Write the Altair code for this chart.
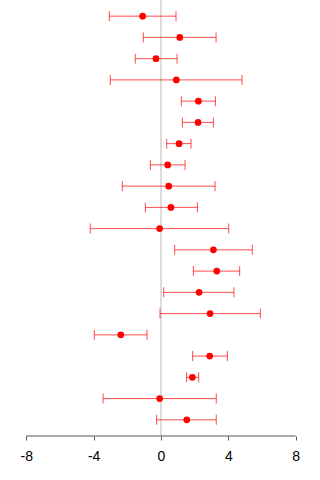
import altair as alt
import pandas as pd

rows = list(range(1, 21))
est = [-1.09, 1.11, -0.30, 0.91, 2.22, 2.20, 1.07, 0.40, 0.46, 0.59,
       -0.08, 3.11, 3.31, 2.26, 2.91, -2.39, 2.89, 1.86, -0.08, 1.53]
lo = [-3.07, -1.05, -1.53, -3.01, 1.21, 1.27, 0.34, -0.63, -2.30, -0.93,
      -4.20, 0.81, 1.92, 0.16, -0.06, -3.96, 1.88, 1.52, -3.44, -0.26]
hi = [0.89, 3.27, 0.95, 4.81, 3.23, 3.11, 1.78, 1.43, 3.21, 2.16,
      4.02, 5.42, 4.67, 4.33, 5.90, -0.83, 3.94, 2.24, 3.28, 3.28]
tick_values = [-8, -4, 0, 4, 8]

df = pd.DataFrame({"row": rows, "est": est, "lo": lo, "hi": hi})

H = 436
xscale = alt.Scale(domain=[-9.56, 9.44], nice=False, zero=False)
yscale = alt.Scale(domain=[0.24, 20.76], reverse=True, nice=False, zero=False)
xaxis = alt.Axis(values=tick_values, domain=False, grid=False, tickSize=4,
                 tickColor="#555555", labelFontSize=14, labelFont="Liberation Sans",
                 labelColor="black", labelPadding=9, title=None,
                 labelExpr="'' + datum.value")


def X(field):
    return alt.X(field, type="quantitative", scale=xscale, axis=xaxis)


Y = alt.Y("row:Q", scale=yscale, axis=None)

zero_line = alt.Chart(pd.DataFrame({"z": [0]})).mark_rule(
    color="#dcdcdc", strokeWidth=2
).encode(x=X("z"), y=alt.value(0), y2=alt.value(H))

axis_line = alt.Chart(pd.DataFrame({"a": [tick_values[0]], "b": [tick_values[-1]]})).mark_rule(
    color="#555555", strokeWidth=1
).encode(x=X("a"), x2="b:Q", y=alt.value(H))

base = alt.Chart(df)
bars = base.mark_rule(color="red", opacity=0.7, strokeWidth=1).encode(
    x=X("lo"), x2="hi:Q", y=Y)
cap_lo = base.mark_tick(color="red", opacity=0.7, orient="vertical", size=10, thickness=1).encode(
    x=X("lo"), y=Y)
cap_hi = base.mark_tick(color="red", opacity=0.7, orient="vertical", size=10, thickness=1).encode(
    x=X("hi"), y=Y)
points = base.mark_circle(color="red", opacity=1, size=45).encode(x=X("est"), y=Y)

chart = alt.layer(zero_line, axis_line, bars, cap_lo, cap_hi, points).properties(
    width=320, height=H,
    autosize=alt.AutoSizeParams(type="none"),
    padding={"left": 0, "top": 0, "right": 0, "bottom": 44},
).configure_view(stroke=None)

chart.save("out.html", embed_options={"renderer": "svg", "actions": False})
